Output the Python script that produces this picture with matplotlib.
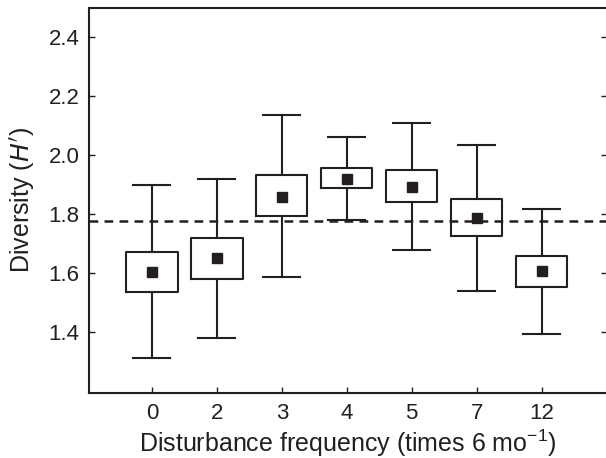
import numpy as np
import matplotlib
matplotlib.use("Agg")
import matplotlib.pyplot as plt

plt.rcParams['font.family'] = ['Liberation Sans', 'DejaVu Sans']

# Data
categories = ['0', '2', '3', '4', '5', '7', '12']
whisker_lo = [1.311, 1.378, 1.587, 1.780, 1.678, 1.539, 1.393]
box_lo = [1.537, 1.581, 1.792, 1.887, 1.839, 1.726, 1.553]
means = [1.604, 1.650, 1.857, 1.920, 1.891, 1.786, 1.605]
box_hi = [1.670, 1.717, 1.932, 1.954, 1.948, 1.849, 1.658]
whisker_hi = [1.897, 1.920, 2.136, 2.060, 2.108, 2.035, 1.818]
ref_line = 1.777
y_ticks = [1.4, 1.6, 1.8, 2.0, 2.2, 2.4]

fig = plt.figure(figsize=(6.06, 4.58), dpi=100)
ax = fig.add_axes([89 / 606, 1 - 393 / 458, (606.5 - 89) / 606, (393 - 8) / 458])

# Build boxplot stats so matplotlib draws the boxes
stats = []
for i in range(len(categories)):
    stats.append({'whislo': whisker_lo[i], 'q1': box_lo[i], 'med': means[i],
                  'q3': box_hi[i], 'whishi': whisker_hi[i], 'mean': means[i],
                  'fliers': []})

lw = 1.5
dark = '#231f20'
positions = np.arange(1, len(categories) + 1)
ax.bxp(stats, positions=positions, widths=0.79, showmeans=True, meanline=False,
       boxprops=dict(color=dark, linewidth=lw),
       whiskerprops=dict(color=dark, linewidth=lw),
       capprops=dict(color=dark, linewidth=lw),
       medianprops=dict(linewidth=0),
       meanprops=dict(marker='s', markersize=6.5, markerfacecolor=dark,
                      markeredgecolor=dark),
       capwidths=0.57, showfliers=False)

ax.axhline(ref_line, color=dark, linewidth=1.8, linestyle=(0, (3.5, 2.5)), zorder=3)

ax.set_xlim(0.03, 8.0)
ax.set_ylim(1.193, 2.498)
ax.set_xticks(positions)
ax.set_xticklabels(categories)
ax.set_yticks(y_ticks)
ax.set_yticklabels([f'{v:.1f}' for v in y_ticks])

ax.tick_params(axis='both', direction='in', length=4, width=1, labelsize=16,
               colors=dark, pad=7)
ax.tick_params(axis='y', right=True)
for sp in ax.spines.values():
    sp.set_linewidth(1.5)
    sp.set_color(dark)
ax.spines['right'].set_visible(False)

ax.set_xlabel('Disturbance frequency (times 6 mo$^{\\mathregular{-1}}$)', fontsize=18,
              color=dark, labelpad=3)
ax.set_ylabel('Diversity ($\\mathit{H\'}$)', fontsize=18, color=dark, labelpad=8)

fig.savefig('out.png', dpi=100)
